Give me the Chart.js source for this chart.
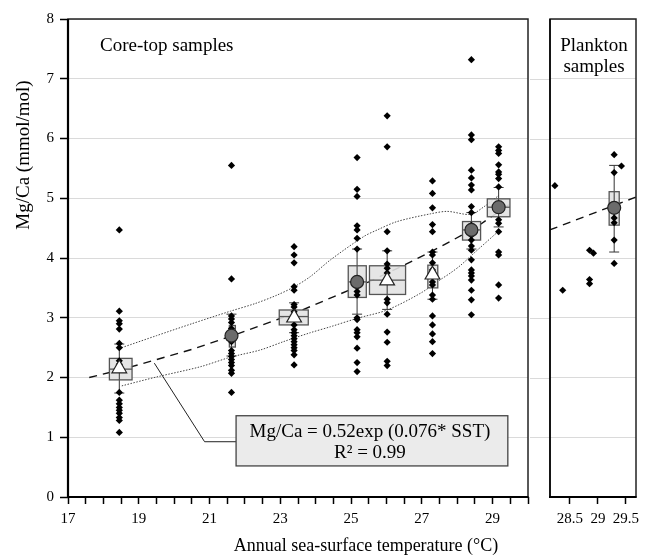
<!DOCTYPE html>
<html>
<head>
<meta charset="utf-8">
<title>Mg/Ca vs SST</title>
<script src="https://cdn.jsdelivr.net/npm/chart.js@4.4.0/dist/chart.umd.min.js"></script>
<style>
  body { margin: 0; background: #fff; }
  #wrap { position: relative; width: 658px; height: 558px; }
  canvas { position: absolute; top: 0; }
</style>
</head>
<body>
<div id="wrap">
  <canvas id="coreChart" width="530" height="558" style="left:0"></canvas>
  <canvas id="planktonChart" width="128" height="558" style="left:530px"></canvas>
</div>
<script>
// core-top groups (annual SST, °C)
const groupSST = [18.45, 21.62, 23.39, 25.17, 26.02, 27.30, 28.40, 29.17];
const groupMgCa = [
  [4.47, 3.11, 2.95, 2.9, 2.81, 2.57, 2.5, 2.28, 2.22, 1.75, 1.62, 1.56, 1.5, 1.45, 1.4, 1.33, 1.28, 1.08],
  [5.55, 3.65, 3.03, 2.98, 2.92, 2.82, 2.7, 2.6, 2.45, 2.4, 2.35, 2.3, 2.25, 2.2, 2.12, 2.07, 1.75],
  [4.19, 4.05, 3.92, 3.52, 3.46, 3.22, 3.18, 3.1, 2.98, 2.88, 2.8, 2.75, 2.7, 2.65, 2.6, 2.55, 2.5, 2.45, 2.38, 2.21],
  [5.68, 5.15, 5.03, 4.54, 4.47, 4.33, 4.15, 3.6, 3.52, 3.44, 3.38, 3.0, 2.97, 2.8, 2.75, 2.68, 2.49, 2.25, 2.1],
  [6.38, 5.86, 4.44, 4.12, 3.9, 3.83, 3.75, 3.62, 3.31, 3.25, 3.06, 2.76, 2.59, 2.27, 2.2],
  [5.29, 5.08, 4.84, 4.56, 4.44, 4.1, 4.05, 3.92, 3.8, 3.72, 3.6, 3.55, 3.38, 3.31, 3.03, 2.88, 2.73, 2.6, 2.4],
  [7.32, 6.06, 5.98, 5.47, 5.34, 5.22, 5.14, 4.86, 4.76, 4.55, 4.45, 4.38, 4.3, 4.2, 4.13, 3.97, 3.8, 3.75, 3.7, 3.63, 3.46, 3.3, 3.05],
  [5.86, 5.8, 5.75, 5.56, 5.44, 5.4, 5.33, 5.19, 4.85, 4.64, 4.58, 4.44, 4.1, 4.05, 3.55, 3.33]
];
// box statistics per group
const sstLow = [18.17, 21.56, 22.97, 24.92, 25.52, 27.17, 28.15, 28.85];
const sstHigh = [18.81, 21.73, 23.79, 25.43, 26.54, 27.45, 28.66, 29.49];
const boxLow = [1.96, 2.51, 2.88, 3.34, 3.39, 3.50, 4.30, 4.69];
const boxHigh = [2.32, 2.87, 3.13, 3.87, 3.87, 3.88, 4.61, 4.99];
const boxMedian = [2.14, 2.70, 3.02, 3.60, 3.63, 3.72, 4.47, 4.85];
const whiskerLow = [1.74, 2.36, 2.75, 3.06, 3.14, 3.31, 4.15, 4.52];
const whiskerHigh = [2.56, 3.06, 3.25, 4.15, 4.12, 4.10, 4.76, 5.18];
const groupMean = [2.15, 2.70, 3.00, 3.60, 3.62, 3.72, 4.47, 4.85];
const meanMarker = ['triangle', 'circle', 'triangle', 'circle', 'triangle', 'triangle', 'circle', 'circle'];

// exponential fit (dashed) and envelope (dotted)
const fitSST = [17.6, 18.5, 19.5, 20.5, 21.5, 22.5, 23.5, 24.5, 25.5, 26.5, 27.5, 28.5, 29.55];
const fitMgCa = [2.0, 2.13, 2.30, 2.47, 2.67, 2.88, 3.10, 3.35, 3.60, 3.88, 4.18, 4.50, 4.93];
const upperSST = [18.52, 19.5, 20.5, 21.59, 22.3, 22.91, 23.4, 23.85, 24.42, 25.36, 25.74, 26.30, 27.25, 27.72, 28.38, 28.76, 29.18];
const upperMgCa = [2.50, 2.70, 2.90, 3.11, 3.24, 3.38, 3.52, 3.69, 3.97, 4.36, 4.47, 4.61, 4.74, 4.78, 4.73, 4.86, 5.05];
const lowerSST = [18.52, 19.51, 20.74, 21.59, 22.43, 23.09, 23.85, 24.42, 25.17, 26.02, 26.96, 27.53, 27.81, 28.1, 28.47, 29.17];
const lowerMgCa = [1.86, 2.01, 2.18, 2.34, 2.46, 2.60, 2.75, 2.85, 2.99, 3.13, 3.41, 3.64, 3.75, 3.88, 4.08, 4.45];

// equation note and its leader line
const noteSST = [21.75, 29.43];
const noteMgCa = [0.52, 1.36];
const noteLines = ['Mg/Ca = 0.52exp (0.076* SST)', 'R\u00b2 = 0.99'];
const leaderSST = [19.44, 20.86, 21.75];
const leaderMgCa = [2.24, 0.925, 0.925];

// plankton samples
const planktonSST = [28.23, 28.37, 28.85, 28.92, 28.85, 28.85, 29.29, 29.42, 29.29, 29.29, 29.29, 29.29, 29.29];
const planktonMgCa = [5.21, 3.46, 4.13, 4.08, 3.64, 3.57, 5.73, 5.54, 5.43, 4.67, 4.59, 4.30, 3.91];
const planktonBox = { center: [29.29], sstLow: [29.20], sstHigh: [29.38], boxLow: [4.55], boxHigh: [5.11],
  median: [4.83], whiskerLow: [4.10], whiskerHigh: [5.55], mean: [4.84], marker: ['circle'] };
const planktonFitSST = [28.14, 29.68];
const planktonFitMgCa = [4.47, 5.02];

const coreTickLabels = [17, 19, 21, 23, 25, 27, 29];
const planktonTickLabels = [28.5, 29, 29.5];

const FONT = "'Liberation Serif', 'Times New Roman', serif";
Chart.defaults.font.family = FONT;
Chart.defaults.color = '#000';

const pts = (xs, ys) => xs.map((x, i) => ({ x, y: ys[i] }));

function boxPlugin(g) {
  return {
    id: 'boxes',
    beforeDatasetDraw(chart, args) {
      if (chart.data.datasets[args.index].label !== 'samples') return;
      const { ctx, scales: { x, y } } = chart;
      ctx.save();
      for (let i = 0; i < g.center.length; i++) {
        const cx = x.getPixelForValue(g.center[i]);
        const l = x.getPixelForValue(g.sstLow[i]);
        const r = x.getPixelForValue(g.sstHigh[i]);
        const t = y.getPixelForValue(g.boxHigh[i]);
        const b = y.getPixelForValue(g.boxLow[i]);
        const wt = y.getPixelForValue(g.whiskerHigh[i]);
        const wb = y.getPixelForValue(g.whiskerLow[i]);
        const m = y.getPixelForValue(g.median[i]);
        ctx.fillStyle = 'rgba(226,226,226,0.9)';
        ctx.fillRect(l, t, r - l, b - t);
        ctx.strokeStyle = '#333';
        ctx.lineWidth = 1;
        ctx.beginPath();
        ctx.moveTo(cx, wt); ctx.lineTo(cx, wb);
        ctx.moveTo(cx - 5, wt); ctx.lineTo(cx + 5, wt);
        ctx.moveTo(cx - 5, wb); ctx.lineTo(cx + 5, wb);
        ctx.stroke();
        ctx.strokeStyle = '#555';
        ctx.lineWidth = 1.3;
        ctx.strokeRect(l, t, r - l, b - t);
        ctx.beginPath();
        ctx.moveTo(l, m); ctx.lineTo(r, m);
        ctx.stroke();
      }
      ctx.restore();
    }
  };
}

function framePlugin(left, bottom, rest) {
  return {
    id: 'frame',
    afterDatasetsDraw(chart) {
      const { ctx, chartArea: a } = chart;
      ctx.save();
      ctx.strokeStyle = '#222';
      ctx.lineWidth = rest;
      ctx.strokeRect(a.left, a.top, a.right - a.left, a.bottom - a.top);
      ctx.strokeStyle = '#000';
      ctx.beginPath();
      ctx.lineWidth = left;
      ctx.moveTo(a.left, a.top); ctx.lineTo(a.left, a.bottom);
      ctx.stroke();
      ctx.beginPath();
      ctx.lineWidth = bottom;
      ctx.moveTo(a.left - 1, a.bottom); ctx.lineTo(a.right + 0.5, a.bottom);
      ctx.stroke();
      ctx.restore();
    }
  };
}

// fixed axis box sizes, no extra side padding from tick labels
const fitX = s => { s.height = 61; s.paddingLeft = 0; s.paddingRight = 0; };

const meanDataset = (xs, ys, marks) => ({
  label: 'means',
  data: pts(xs, ys),
  pointStyle: marks,
  pointRadius: marks.map(m => m === 'triangle' ? 8.5 : 6.5),
  pointBackgroundColor: marks.map(m => m === 'triangle' ? '#fff' : '#6b6b6b'),
  pointBorderColor: '#222',
  pointBorderWidth: 1.2,
  order: 1
});

const dotStyle = { pointStyle: 'rectRot', pointRadius: 3.6, pointBackgroundColor: '#000', pointBorderColor: '#000', pointBorderWidth: 0, order: 2 };

// core-top panel
const coreGroups = { center: groupSST, sstLow, sstHigh, boxLow, boxHigh, median: boxMedian, whiskerLow, whiskerHigh };

new Chart(document.getElementById('coreChart'), {
  type: 'scatter',
  data: {
    datasets: [
      meanDataset(groupSST, groupMean, meanMarker),
      { label: 'samples', data: groupMgCa.flatMap((vals, i) => vals.map(v => ({ x: groupSST[i], y: v }))), ...dotStyle },
      { label: 'fit', data: pts(fitSST, fitMgCa), showLine: true, borderColor: '#111', borderWidth: 1.4, borderDash: [8, 6], pointRadius: 0, order: 3 },
      { label: 'upper', data: pts(upperSST, upperMgCa), showLine: true, borderColor: '#444', borderWidth: 1, borderDash: [1.5, 1.5], pointRadius: 0, tension: 0.3, order: 3 },
      { label: 'lower', data: pts(lowerSST, lowerMgCa), showLine: true, borderColor: '#444', borderWidth: 1, borderDash: [1.5, 1.5], pointRadius: 0, tension: 0.3, order: 3 },
      { label: 'leader', data: pts(leaderSST, leaderMgCa), showLine: true, borderColor: '#222', borderWidth: 1, pointRadius: 0, order: 3 }
    ]
  },
  options: {
    responsive: false,
    animation: false,
    layout: { autoPadding: false, padding: { left: 0, right: 2, top: 19, bottom: 0 } },
    plugins: { legend: { display: false }, tooltip: { enabled: false } },
    scales: {
      x: {
        type: 'linear', min: 17, max: 30,
        border: { display: false },
        grid: { drawOnChartArea: false, tickColor: '#000', tickLength: 7, tickWidth: 1.5 },
        ticks: {
          stepSize: 0.5, autoSkip: false, maxRotation: 0, padding: 6,
          font: { size: 15 },
          callback: v => coreTickLabels.includes(v) ? String(v) : ''
        },
        afterFit: fitX
      },
      y: {
        min: 0, max: 8,
        border: { display: false },
        grid: { color: '#dadada', lineWidth: 1, tickColor: '#000', tickLength: 8, tickWidth: 1.5 },
        ticks: { stepSize: 1, padding: 6, font: { size: 15 } },
        afterFit: s => { s.width = 68; }
      }
    }
  },
  plugins: [
    boxPlugin(coreGroups),
    {
      id: 'note',
      afterDatasetsDraw(chart) {
        const { ctx, scales: { x, y } } = chart;
        const l = x.getPixelForValue(noteSST[0]), r = x.getPixelForValue(noteSST[1]);
        const t = y.getPixelForValue(noteMgCa[1]), b = y.getPixelForValue(noteMgCa[0]);
        ctx.save();
        ctx.fillStyle = '#ebebeb';
        ctx.fillRect(l, t, r - l, b - t);
        ctx.strokeStyle = '#444';
        ctx.lineWidth = 1.3;
        ctx.strokeRect(l, t, r - l, b - t);
        ctx.fillStyle = '#000';
        ctx.font = `19px ${FONT}`;
        ctx.textAlign = 'center';
        ctx.textBaseline = 'middle';
        const cx = (l + r) / 2 - 2;
        ctx.fillText(noteLines[0], cx, t + 16);
        ctx.fillText(noteLines[1], cx, t + 37);
        ctx.restore();
      }
    },
    framePlugin(2.2, 2.2, 1.5),
    {
      id: 'labels',
      afterDraw(chart) {
        const { ctx, chartArea: a } = chart;
        ctx.save();
        ctx.fillStyle = '#000';
        ctx.textBaseline = 'middle';
        ctx.font = `19px ${FONT}`;
        ctx.textAlign = 'left';
        ctx.fillText('Core-top samples', a.left + 32, a.top + 27);
        ctx.font = `18px ${FONT}`;
        ctx.textAlign = 'center';
        ctx.fillText('Annual sea-surface temperature (\u00b0C)', 366, 546);
        ctx.translate(24, 155);
        ctx.rotate(-Math.PI / 2);
        ctx.font = `19px ${FONT}`;
        ctx.fillText('Mg/Ca (mmol/mol)', 0, 0);
        ctx.restore();
      }
    }
  ]
});

// plankton panel
new Chart(document.getElementById('planktonChart'), {
  type: 'scatter',
  data: {
    datasets: [
      meanDataset(planktonBox.center, planktonBox.mean, planktonBox.marker),
      { label: 'samples', data: pts(planktonSST, planktonMgCa), ...dotStyle },
      { label: 'fit', data: pts(planktonFitSST, planktonFitMgCa), showLine: true, borderColor: '#111', borderWidth: 1.4, borderDash: [8, 6], pointRadius: 0, order: 3 }
    ]
  },
  options: {
    responsive: false,
    animation: false,
    layout: { autoPadding: false, padding: { left: 20, right: 22, top: 19, bottom: 0 } },
    plugins: { legend: { display: false }, tooltip: { enabled: false } },
    scales: {
      x: {
        type: 'linear', min: 28.143, max: 29.68,
        border: { display: false },
        grid: { drawOnChartArea: false, tickColor: '#000', tickLength: 7, tickWidth: 1.5 },
        ticks: {
          stepSize: 0.5, includeBounds: false, autoSkip: false, maxRotation: 0, padding: 6,
          font: { size: 15 },
          callback: v => planktonTickLabels.includes(v) ? String(v) : ''
        },
        afterFit: fitX
      },
      y: {
        min: 0, max: 8,
        border: { display: false },
        grid: { color: '#dadada', lineWidth: 1, drawTicks: false },
        ticks: { display: false, stepSize: 1 },
        afterFit: s => { s.width = 0; }
      }
    }
  },
  plugins: [
    boxPlugin(planktonBox),
    {
      id: 'gapGrid',
      beforeDatasetsDraw(chart) {
        const { ctx, chartArea: a, scales: { y } } = chart;
        ctx.save();
        ctx.strokeStyle = '#dadada';
        ctx.lineWidth = 1;
        y.ticks.forEach(t => {
          if (t.value <= 0 || t.value >= 8) return;
          const py = Math.round(y.getPixelForValue(t.value)) + 0.5;
          ctx.beginPath();
          ctx.moveTo(0, py);
          ctx.lineTo(a.left, py);
          ctx.stroke();
        });
        ctx.restore();
      }
    },
    framePlugin(1.5, 2.2, 1.5),
    {
      id: 'labels',
      afterDraw(chart) {
        const { ctx, chartArea: a } = chart;
        const cx = (a.left + a.right) / 2 + 1;
        ctx.save();
        ctx.fillStyle = '#000';
        ctx.textAlign = 'center';
        ctx.textBaseline = 'middle';
        ctx.font = `19px ${FONT}`;
        ctx.fillText('Plankton', cx, a.top + 27);
        ctx.fillText('samples', cx, a.top + 48);
        ctx.restore();
      }
    }
  ]
});
</script>
</body>
</html>
